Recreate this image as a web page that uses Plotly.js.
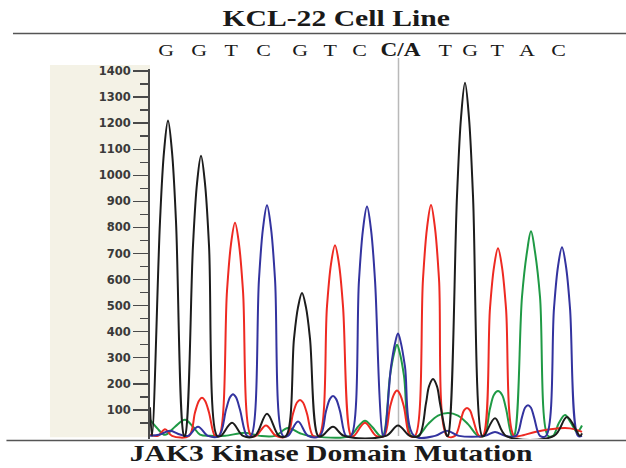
<!DOCTYPE html>
<html>
<head>
<meta charset="utf-8">
<script src="https://cdn.plot.ly/plotly-3.0.1.min.js"></script>
<style>
  html, body { margin: 0; padding: 0; background: #ffffff; }
  #chart { width: 626px; height: 468px; }
</style>
</head>
<body>
<div id="chart"></div>
<script>
// Sequencing trace, one [scan, signal] list per dye channel
const gSignal = [
  [0,110],[2,0],[10,823],[14,1090],[18,1210],[22,1090],[26,823],[34,0],
  [35,0],[43,731],[47,968],[51,1075],[55,968],[59,731],[67,0],
  [71,0],[82,50],[93,0],[105,0],[117,85],[129,0],
  [136,0],[144,373],[148,493],[152,548],[156,493],[160,373],[168,0],
  [172,0],[183,35],[194,0],[236,0],[248,40],[260,0],
  [269,0],[276,125],[279,190],[283,218],[287,190],[290,125],[297,0],
  [298,0],[307,921],[311,1220],[315,1355],[319,1220],[323,921],[332,0],
  [334,0],[345,68],[356,0],[404,0],[417,72],[430,0],[432,10]
];
const aSignal = [
  [0,62],[7,30],[15,4],[25,35],[35,62],[43,35],[50,5],[60,0],
  [75,0],[95,12],[110,0],[125,0],[138,30],[150,10],[160,0],
  [200,0],[208,35],[215,58],[222,35],[230,0],
  [233,0],[240,230],[244,315],[247,350],[250,315],[254,230],[261,0],
  [268,0],[278,45],[288,78],[298,88],[308,78],[318,45],[328,0],
  [334,0],[340,105],[344,158],[348,172],[352,158],[356,105],[362,0],
  [364,0],[372,534],[377,706],[381,785],[385,706],[390,534],[398,0],
  [403,0],[409,50],[415,80],[421,50],[427,15],[432,40]
];
const tSignal = [
  [0,5],[8,0],[15,25],[22,0],
  [39,0],[45,90],[49,135],[52,146],[55,135],[59,90],[65,0],
  [69,0],[77,556],[81,736],[85,818],[89,736],[93,556],[101,0],
  [106,0],[116,40],[126,0],
  [137,0],[143,85],[147,128],[150,138],[153,128],[157,85],[163,0],
  [169,0],[177,498],[181,659],[185,732],[189,659],[193,498],[201,0],
  [204,0],[215,50],[226,0],
  [234,0],[240,110],[244,160],[247,174],[250,160],[254,110],[260,0],
  [265,0],[273,602],[277,797],[281,886],[285,797],[289,602],[297,0],
  [305,0],[311,65],[314,98],[317,107],[320,98],[323,65],[329,0],
  [333,0],[340,490],[344,648],[348,720],[352,648],[356,490],[364,0],
  [370,0],[385,15],[400,25],[415,30],[425,25],[432,15]
];
const cSignal = [
  [0,0],[10,5],[20,20],[30,5],[38,0],[48,35],[58,0],
  [69,0],[76,100],[80,148],[83,160],[86,148],[90,100],[97,0],
  [101,0],[109,602],[113,797],[117,885],[121,797],[125,602],[133,0],
  [138,0],[148,55],[158,0],
  [170,0],[176,95],[180,142],[183,153],[186,142],[190,95],[196,0],
  [201,0],[209,598],[213,792],[217,880],[221,792],[225,598],[233,0],
  [234,0],[241,265],[245,355],[248,393],[251,355],[255,265],[264,0],
  [285,0],[297,20],[309,0],[335,0],[345,15],[355,0],
  [366,0],[372,72],[375,108],[378,118],[381,108],[384,72],[390,0],
  [396,0],[404,490],[408,650],[412,724],[416,650],[420,490],[428,0],[432,0]
];

// Base calls printed above the trace, with the scan each call sits over
const baseCalls = ['G','G','T','C','G','T','C','C/A','T','G','T','A','C'];
const callScan  = [16, 49, 81, 113, 150, 180, 209, 250, 295, 320, 347, 377, 408];
const mutationScan = 248.5;

// Signal axis labels
const yTicks = [100,200,300,400,500,600,700,800,900,1000,1100,1200,1300,1400];
const yMinorTicks = [50,150,250,350,450,550,650,750,850,950,1050,1150,1250,1350];

const chartTitle = 'KCL-22 Cell Line';
const chartCaption = 'JAK3 Kinase Domain Mutation';

const channels = [
  { pts: aSignal, color: '#1f9a45', name: 'A' },
  { pts: tSignal, color: '#ee2a22', name: 'T' },
  { pts: cSignal, color: '#33339f', name: 'C' },
  { pts: gSignal, color: '#1c1c1c', name: 'G' }
];

const traces = channels.map(ch => ({
  type: 'scatter',
  mode: 'lines',
  name: ch.name,
  x: ch.pts.map(p => p[0]),
  y: ch.pts.map(p => p[1]),
  line: { color: ch.color, width: 2, shape: 'spline', smoothing: 1, simplify: false },
  hoverinfo: 'skip'
}));

const serif = 'Liberation Serif, Times New Roman, serif';

const callAnnotations = baseCalls.map((b, i) => ({
  x: callScan[i], xref: 'x',
  y: 1.051, yref: 'paper',
  yanchor: 'middle', xanchor: 'center',
  text: b,
  showarrow: false,
  font: { family: serif, size: b.length > 1 ? 18 : 17, color: '#1a1a1a', weight: b.length > 1 ? 'bold' : 'normal' }
}));

const layout = {
  width: 626,
  height: 468,
  margin: { l: 150, r: 41, t: 69, b: 29 },
  paper_bgcolor: '#ffffff',
  plot_bgcolor: '#ffffff',
  showlegend: false,
  title: {
    text: chartTitle,
    x: 0.537, xref: 'container', xanchor: 'center',
    y: 0.9615, yref: 'container', yanchor: 'middle',
    font: { family: serif, size: 23, color: '#1a1a1a', weight: 'bold' }
  },
  xaxis: {
    range: [0, 435],
    showgrid: false, zeroline: false, showline: false,
    showticklabels: false, ticks: ''
  },
  yaxis: {
    range: [-12, 1408],
    tickvals: yTicks,
    showgrid: false, zeroline: false,
    showline: true, linecolor: '#4a4a4a', linewidth: 2,
    ticks: 'outside', ticklen: 15, tickwidth: 1.5, tickcolor: '#4a4a4a',
    tickfont: { family: 'DejaVu Sans, sans-serif', size: 11.5, color: '#3a3a3a', weight: 'bold' },
    minor: { tickvals: yMinorTicks, ticks: 'outside', ticklen: 8, tickwidth: 1.5, tickcolor: '#4a4a4a', showgrid: false }
  },
  shapes: [
    // cream panel behind the signal scale
    { type: 'rect', xref: 'paper', yref: 'paper', x0: -0.23, x1: 0, y0: 0.005, y1: 1.011,
      fillcolor: '#f4f2e6', line: { width: 0 }, layer: 'below' },
    // rule under the heading
    { type: 'line', xref: 'paper', yref: 'paper', x0: -0.315, x1: 1.1, y0: 1.096, y1: 1.096,
      line: { color: '#555555', width: 1.5 } },
    // rule above the caption
    { type: 'line', xref: 'paper', yref: 'paper', x0: -0.33, x1: 1.1, y0: -0.004, y1: -0.004,
      line: { color: '#555555', width: 1.5 } },
    // cursor at the mixed base
    { type: 'line', xref: 'x', yref: 'paper', x0: mutationScan, x1: mutationScan, y0: 0.008, y1: 1.03,
      line: { color: '#b9b9b9', width: 1.5 }, layer: 'below' }
  ],
  annotations: callAnnotations.concat([
    { x: 0.418, xref: 'paper', y: -0.0405, yref: 'paper', xanchor: 'center', yanchor: 'middle',
      text: chartCaption, showarrow: false,
      font: { family: serif, size: 23, color: '#1a1a1a', weight: 'bold' } }
  ])
};

// Serif headings and base calls are set in a horizontally widened face:
// wrap each text node in a group scaled about its own centre.
function widen(el, k) {
  const ns = 'http://www.w3.org/2000/svg';
  const g = document.createElementNS(ns, 'g');
  el.parentNode.insertBefore(g, el);
  g.appendChild(el);
  const bb = g.getBBox();
  const cx = bb.x + bb.width / 2;
  g.setAttribute('transform', 'translate(' + cx + ',0) scale(' + k + ',1) translate(' + (-cx) + ',0)');
}

Plotly.newPlot('chart', traces, layout, { staticPlot: true, displayModeBar: false }).then(gd => {
  gd.querySelectorAll('.annotation-text, .gtitle').forEach(el => widen(el, 1.29));
});
</script>
</body>
</html>
